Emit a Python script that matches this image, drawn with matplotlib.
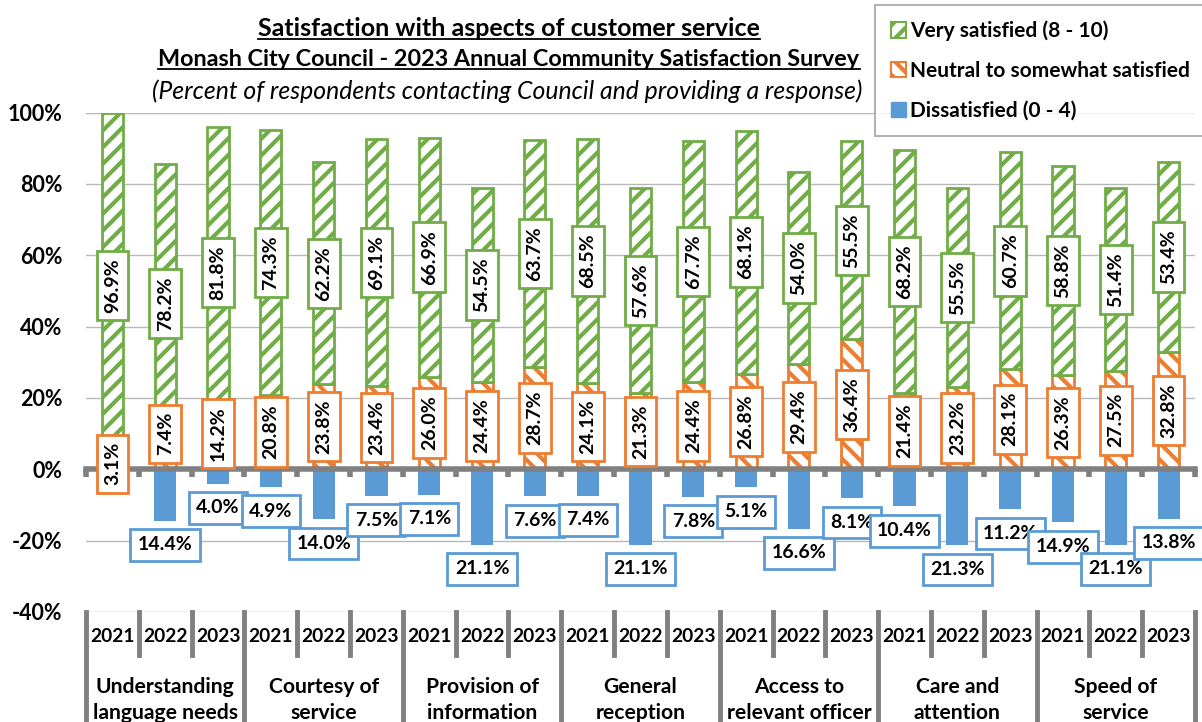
import matplotlib
matplotlib.use('Agg')
import matplotlib.pyplot as plt
import matplotlib.transforms as mtransforms
from matplotlib.lines import Line2D
from matplotlib.patches import Patch
import numpy as np

plt.rcParams['font.family'] = ['Lato', 'DejaVu Sans']
plt.rcParams['hatch.linewidth'] = 3

groups = ['Understanding\nlanguage needs', 'Courtesy of\nservice', 'Provision of\ninformation',
          'General\nreception', 'Access to\nrelevant officer', 'Care and\nattention', 'Speed of\nservice']
years = ['2021', '2022', '2023']

very = [96.9, 78.2, 81.8, 74.3, 62.2, 69.1, 66.9, 54.5, 63.7, 68.5, 57.6, 67.7,
        68.1, 54.0, 55.5, 68.2, 55.5, 60.7, 58.8, 51.4, 53.4]
neutral = [3.1, 7.4, 14.2, 20.8, 23.8, 23.4, 26.0, 24.4, 28.7, 24.1, 21.3, 24.4,
           26.8, 29.4, 36.4, 21.4, 23.2, 28.1, 26.3, 27.5, 32.8]
dissat = [0.0, 14.4, 4.0, 4.9, 14.0, 7.5, 7.1, 21.1, 7.6, 7.4, 21.1, 7.8,
          5.1, 16.6, 8.1, 10.4, 21.3, 11.2, 14.9, 21.1, 13.8]

green = '#70AD47'
orange = '#ED7D31'
blue = '#5B9BD5'
gray = '#808080'

W, H = 1202, 722
fig = plt.figure(figsize=(W / 100, H / 100), dpi=100)
ax = fig.add_axes([86 / W, 1 - 612 / H, 1109 / W, (612 - 112.5) / H])

x = np.arange(len(very))
very = np.array(very)
neutral = np.array(neutral)
dissat = np.array(dissat)

ax.bar(x, neutral, width=0.4, color='white', edgecolor=orange, hatch='\\\\', linewidth=2, zorder=2)
ax.bar(x, very, bottom=neutral, width=0.4, color='white', edgecolor=green, hatch='//', linewidth=2, zorder=2)
ax.bar(x, -dissat, width=0.42, color=blue, zorder=2)

# data labels
lab_fs = 14
for i in range(len(x)):
    ax.text(x[i], neutral[i] + very[i] / 2, f'{very[i]:.1f}%', rotation=90, ha='center', va='center',
            fontsize=lab_fs, fontweight='bold', zorder=5,
            bbox=dict(boxstyle='square,pad=0.38', fc='white', ec=green, lw=2))
    ny = neutral[i] / 2
    if neutral[i] > 5:
        ny = max(ny, 10)
    ax.text(x[i], ny, f'{neutral[i]:.1f}%', rotation=90, ha='center', va='center',
            fontsize=lab_fs, fontweight='bold', zorder=5,
            bbox=dict(boxstyle='square,pad=0.38', fc='white', ec=orange, lw=2))
    if dissat[i] > 0:
        ax.text(x[i], -dissat[i] - 6.8, f'{dissat[i]:.1f}%', ha='center', va='center',
                fontsize=lab_fs, fontweight='bold', zorder=5,
                bbox=dict(boxstyle='square,pad=0.38', fc='white', ec=blue, lw=2))

ax.set_xlim(-0.5, len(x) - 0.5)
ax.set_ylim(-40, 100)
ax.set_yticks(range(-40, 101, 20))
ax.set_yticklabels([f'{v}%' for v in range(-40, 101, 20)], fontsize=15.5, fontweight='bold')
ax.tick_params(axis='y', length=0, pad=17)
ax.grid(axis='y', color='#b8b8b8', lw=1)
ax.set_axisbelow(True)

for s in ['top', 'right', 'left']:
    ax.spines[s].set_visible(False)
ax.spines['bottom'].set_position(('data', 0))
ax.spines['bottom'].set_color(gray)
ax.spines['bottom'].set_linewidth(4)
ax.spines['bottom'].set_zorder(4)
ax.set_xticks([])
ax.set_xticks(np.arange(-0.5, len(x), 1), minor=True)
ax.tick_params(axis='x', which='minor', length=6, width=4, color=gray, direction='out', labelbottom=False)

# category table below the plot
tr = mtransforms.blended_transform_factory(ax.transData, fig.transFigure)
y_top = 1 - 612 / H
y_mid = 1 - 655 / H
for b in np.arange(-0.5, len(x), 1):
    if round(b + 0.5) % 3 == 0:
        ax.add_line(Line2D([b, b], [y_top, 0], transform=tr, color=gray, lw=3.5, clip_on=False))
    else:
        ax.add_line(Line2D([b, b], [y_top, y_mid], transform=tr, color=gray, lw=3.5, clip_on=False))
for i in range(len(x)):
    ax.text(x[i], 1 - 636 / H, years[i % 3], transform=tr, ha='center', va='center',
            fontsize=13.8, fontweight='bold')
for g, name in enumerate(groups):
    ax.text(3 * g + 1, 1 - 700 / H, name, transform=tr, ha='center', va='center',
            fontsize=15.2, fontweight='bold', linespacing=1.32)

# titles
t1 = fig.text(509 / W, 1 - 28 / H, 'Satisfaction with aspects of customer service',
              ha='center', va='center', fontsize=18, fontweight='bold')
t2 = fig.text(509 / W, 1 - 59 / H, 'Monash City Council - 2023 Annual Community Satisfaction Survey',
              ha='center', va='center', fontsize=16.8, fontweight='bold')
fig.text(507 / W, 1 - 91 / H, '(Percent of respondents contacting Council and providing a response)',
         ha='center', va='center', fontsize=17.8, style='italic')

fig.canvas.draw()
r = fig.canvas.get_renderer()
for t in (t1, t2):
    bb = t.get_window_extent(r)
    fig.add_artist(Line2D([bb.x0 / W, bb.x1 / W], [(bb.y0 + 1) / H, (bb.y0 + 1) / H],
                          transform=fig.transFigure, color='black', lw=1.3))

handles = [Patch(facecolor='white', edgecolor=green, hatch='//', lw=1.5),
           Patch(facecolor='white', edgecolor=orange, hatch='\\\\', lw=1.5),
           Patch(facecolor=blue, edgecolor=blue)]
labels = ['Very satisfied (8 - 10)', 'Neutral to somewhat satisfied', 'Dissatisfied (0 - 4)']
leg = fig.legend(handles, labels, loc='upper left', bbox_to_anchor=(875 / W, 1 - 5 / H),
                 prop={'size': 15, 'weight': 'bold'}, frameon=True, fancybox=False,
                 edgecolor='#a0a0a0', handlelength=0.75, handleheight=0.75, handletextpad=0.2,
                 labelspacing=0.95, borderpad=0.75, borderaxespad=0)
leg.get_frame().set_linewidth(1.5)

fig.savefig('out.png', dpi=100)
